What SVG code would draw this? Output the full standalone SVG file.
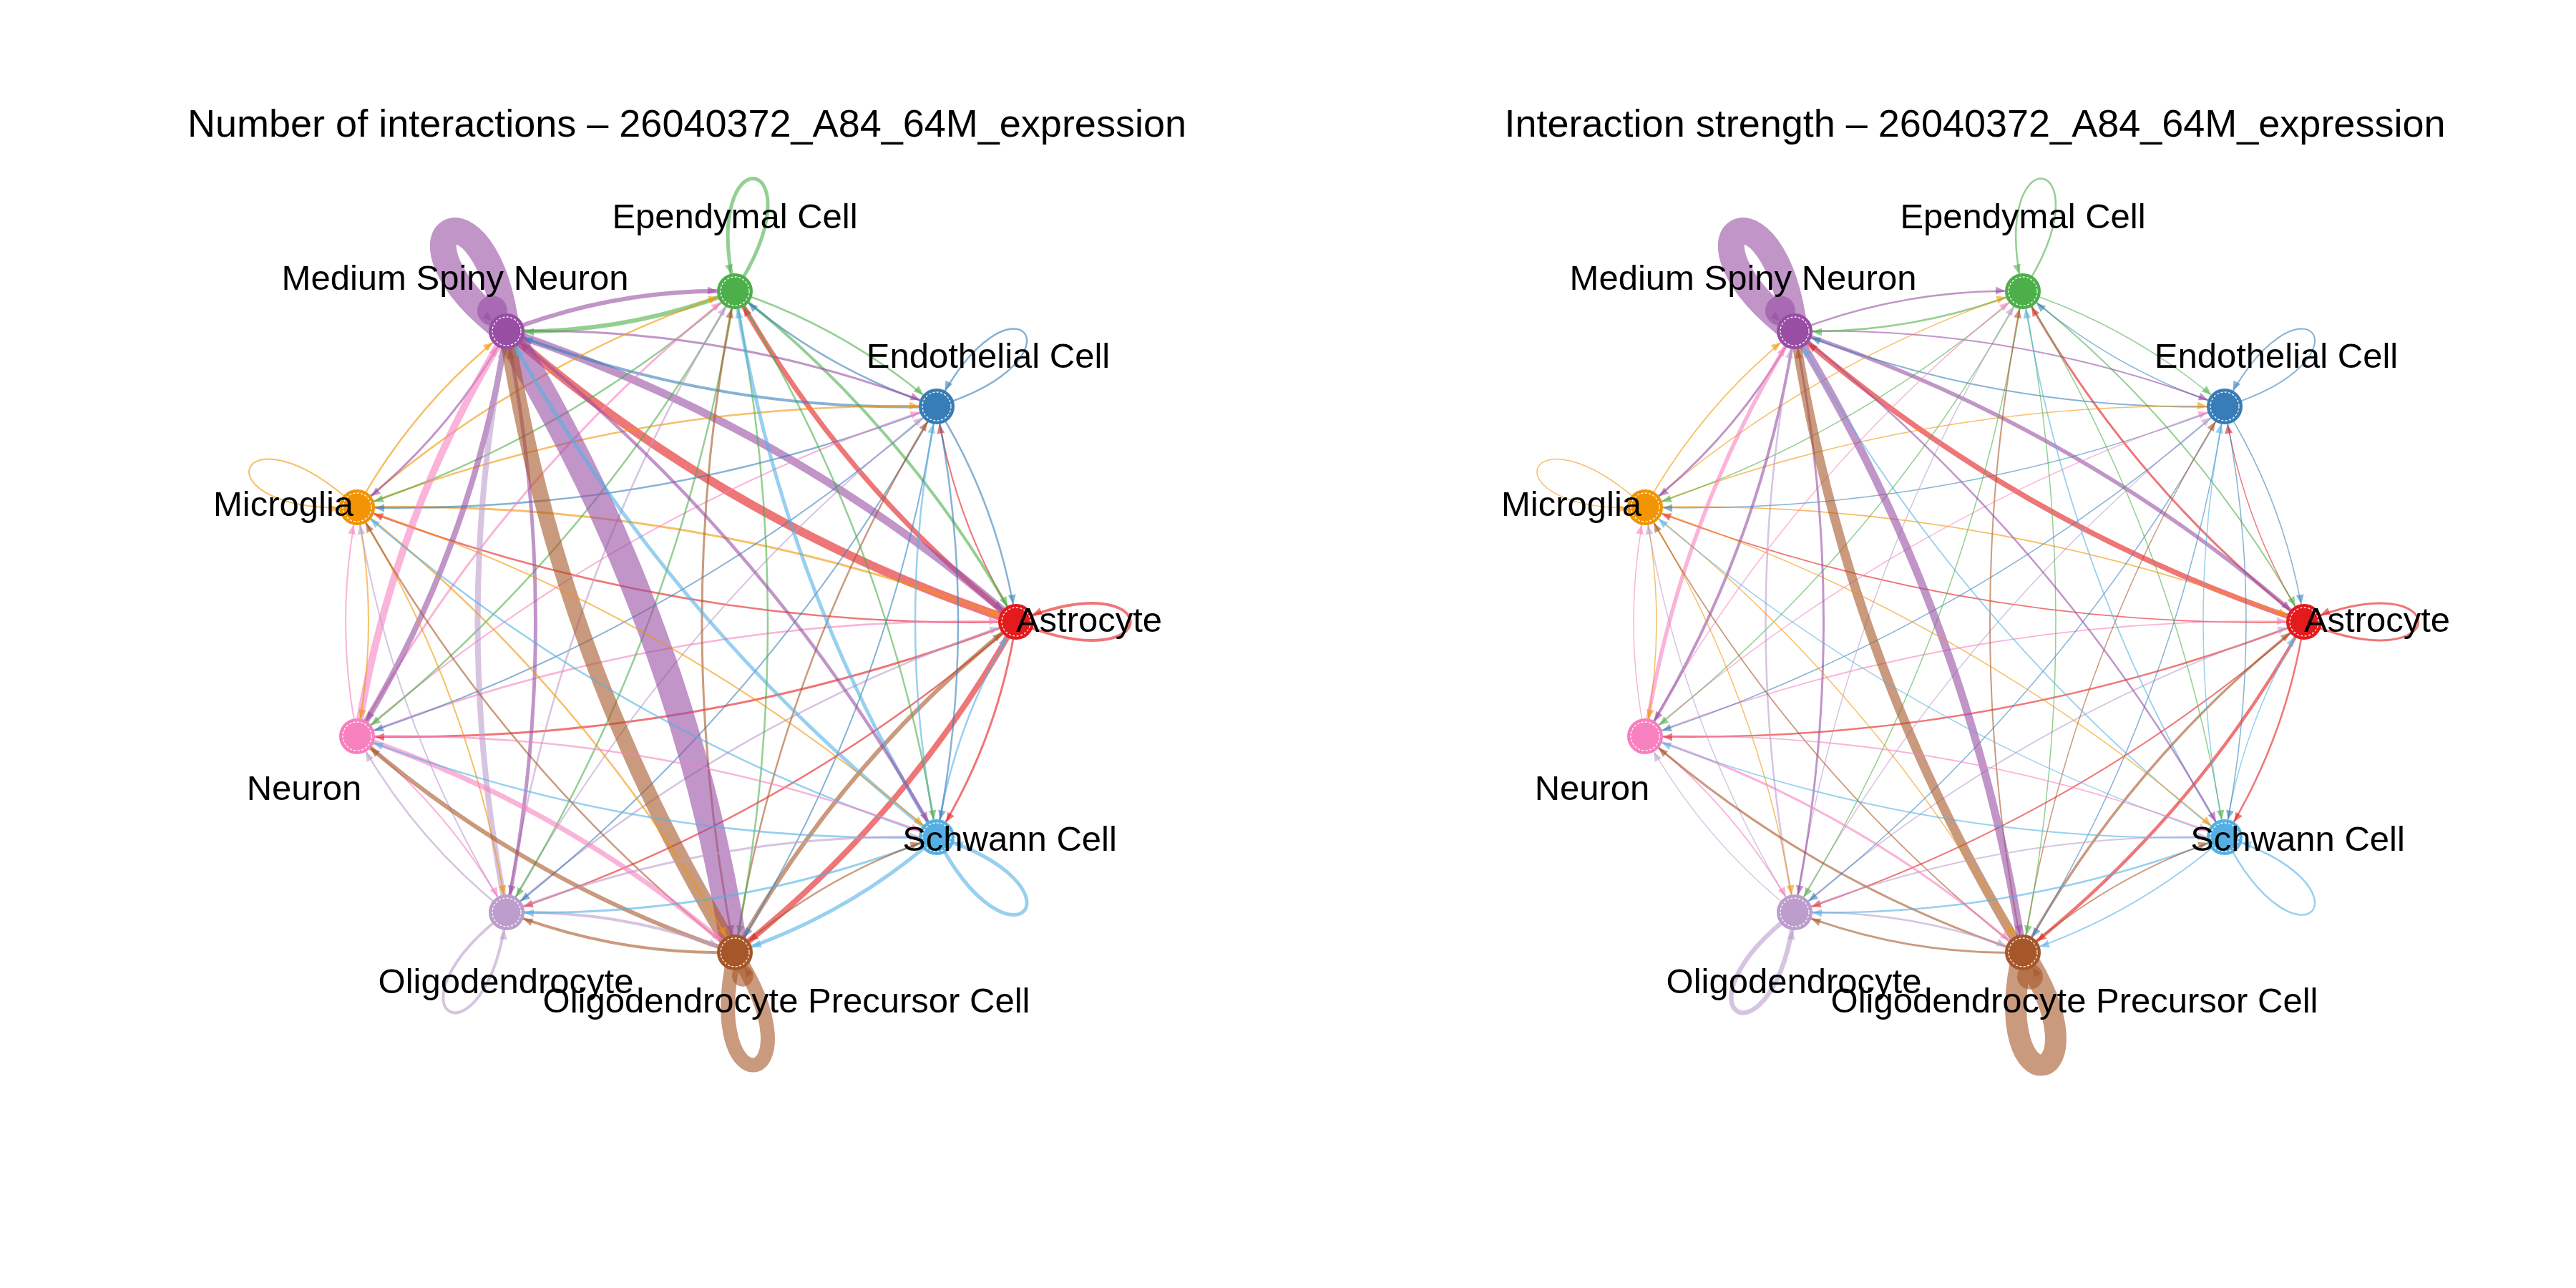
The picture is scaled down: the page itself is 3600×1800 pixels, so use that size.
<svg xmlns="http://www.w3.org/2000/svg" width="3600" height="1800" viewBox="0 0 3600 1800">
<style>
text{font-family:"Liberation Sans",Arial,Helvetica,sans-serif;fill:#000}
.title{font-size:54px;text-anchor:middle}
.lab{font-size:49px;text-anchor:middle}
.e{fill:none;stroke-opacity:.6;stroke-linecap:butt}
.eA{stroke:#E41A1C;marker-end:url(#mA)}
.eEn{stroke:#377EB8;marker-end:url(#mEn)}
.eEp{stroke:#4DAF4A;marker-end:url(#mEp)}
.eM{stroke:#984EA3;marker-end:url(#mM)}
.eMi{stroke:#F29403;marker-end:url(#mMi)}
.eN{stroke:#F781BF;marker-end:url(#mN)}
.eO{stroke:#BC9DCC;marker-end:url(#mO)}
.eP{stroke:#A65628;marker-end:url(#mP)}
.eS{stroke:#54B0E4;marker-end:url(#mS)}
.ring{fill:none;stroke:#fff;stroke-width:1.3;stroke-dasharray:3 2.5}
.blob{fill-opacity:.6}
</style>
<defs>
<marker id="mA" viewBox="-2 -8 44 16" markerWidth="44" markerHeight="16" refX="38" refY="0" orient="auto" markerUnits="userSpaceOnUse"><path d="M0,-5.5L13,0L0,5.5z" fill="#E41A1C" fill-opacity=".6"/></marker>
<marker id="mEn" viewBox="-2 -8 44 16" markerWidth="44" markerHeight="16" refX="38" refY="0" orient="auto" markerUnits="userSpaceOnUse"><path d="M0,-5.5L13,0L0,5.5z" fill="#377EB8" fill-opacity=".6"/></marker>
<marker id="mEp" viewBox="-2 -8 44 16" markerWidth="44" markerHeight="16" refX="38" refY="0" orient="auto" markerUnits="userSpaceOnUse"><path d="M0,-5.5L13,0L0,5.5z" fill="#4DAF4A" fill-opacity=".6"/></marker>
<marker id="mM" viewBox="-2 -8 44 16" markerWidth="44" markerHeight="16" refX="38" refY="0" orient="auto" markerUnits="userSpaceOnUse"><path d="M0,-5.5L13,0L0,5.5z" fill="#984EA3" fill-opacity=".6"/></marker>
<marker id="mMi" viewBox="-2 -8 44 16" markerWidth="44" markerHeight="16" refX="38" refY="0" orient="auto" markerUnits="userSpaceOnUse"><path d="M0,-5.5L13,0L0,5.5z" fill="#F29403" fill-opacity=".6"/></marker>
<marker id="mN" viewBox="-2 -8 44 16" markerWidth="44" markerHeight="16" refX="38" refY="0" orient="auto" markerUnits="userSpaceOnUse"><path d="M0,-5.5L13,0L0,5.5z" fill="#F781BF" fill-opacity=".6"/></marker>
<marker id="mO" viewBox="-2 -8 44 16" markerWidth="44" markerHeight="16" refX="38" refY="0" orient="auto" markerUnits="userSpaceOnUse"><path d="M0,-5.5L13,0L0,5.5z" fill="#BC9DCC" fill-opacity=".6"/></marker>
<marker id="mP" viewBox="-2 -8 44 16" markerWidth="44" markerHeight="16" refX="38" refY="0" orient="auto" markerUnits="userSpaceOnUse"><path d="M0,-5.5L13,0L0,5.5z" fill="#A65628" fill-opacity=".6"/></marker>
<marker id="mS" viewBox="-2 -8 44 16" markerWidth="44" markerHeight="16" refX="38" refY="0" orient="auto" markerUnits="userSpaceOnUse"><path d="M0,-5.5L13,0L0,5.5z" fill="#54B0E4" fill-opacity=".6"/></marker>
</defs>
<rect x="0" y="0" width="3600" height="1800" fill="#fff"/>

<g id="panel-count">
<text class="title" x="960" y="191">Number of interactions – 26040372_A84_64M_expression</text>
<g id="edges-count">
<path class="e eA" stroke-width="2" d="M1420 869Q1334 730 1309 568"/>
<path class="e eEn" stroke-width="2.5" d="M1309 568Q1395 707 1420 869"/>
<path class="e eA" stroke-width="7" d="M1420 869Q1177 677 1027 407"/>
<path class="e eEp" stroke-width="4" d="M1027 407Q1270 599 1420 869"/>
<path class="e eA" stroke-width="12" d="M1420 869Q1023 737 708 463"/>
<path class="e eM" stroke-width="11" d="M708 463Q1105 595 1420 869"/>
<path class="e eA" stroke-width="2.5" d="M1420 869Q944 881 499 709"/>
<path class="e eMi" stroke-width="3" d="M499 709Q976 697 1420 869"/>
<path class="e eA" stroke-width="3" d="M1420 869Q976 1041 499 1029"/>
<path class="e eN" stroke-width="2.5" d="M499 1029Q944 857 1420 869"/>
<path class="e eA" stroke-width="2.5" d="M1420 869Q1105 1143 708 1275"/>
<path class="e eO" stroke-width="2.5" d="M708 1275Q1023 1001 1420 869"/>
<path class="e eA" stroke-width="8" d="M1420 869Q1270 1139 1027 1331"/>
<path class="e eP" stroke-width="6" d="M1027 1331Q1177 1061 1420 869"/>
<path class="e eA" stroke-width="3" d="M1420 869Q1395 1031 1309 1170"/>
<path class="e eS" stroke-width="2.5" d="M1309 1170Q1334 1008 1420 869"/>
<path class="e eEn" stroke-width="2.5" d="M1309 568Q1152 516 1027 407"/>
<path class="e eEp" stroke-width="2.5" d="M1027 407Q1184 459 1309 568"/>
<path class="e eEn" stroke-width="4" d="M1309 568Q998 576 708 463"/>
<path class="e eM" stroke-width="3" d="M708 463Q1019 455 1309 568"/>
<path class="e eEn" stroke-width="2.5" d="M1309 568Q918 720 499 709"/>
<path class="e eMi" stroke-width="2.5" d="M499 709Q890 558 1309 568"/>
<path class="e eEn" stroke-width="2" d="M1309 568Q950 880 499 1029"/>
<path class="e eN" stroke-width="2" d="M499 1029Q858 718 1309 568"/>
<path class="e eEn" stroke-width="2" d="M1309 568Q1079 982 708 1275"/>
<path class="e eO" stroke-width="2" d="M708 1275Q938 861 1309 568"/>
<path class="e eEn" stroke-width="2" d="M1309 568Q1244 978 1027 1331"/>
<path class="e eP" stroke-width="2.5" d="M1027 1331Q1092 921 1309 568"/>
<path class="e eEn" stroke-width="2.5" d="M1309 568Q1369 869 1309 1170"/>
<path class="e eS" stroke-width="2.5" d="M1309 1170Q1249 869 1309 568"/>
<path class="e eEp" stroke-width="6" d="M1027 407Q873 467 708 463"/>
<path class="e eM" stroke-width="6" d="M708 463Q862 403 1027 407"/>
<path class="e eEp" stroke-width="2.5" d="M1027 407Q793 611 499 709"/>
<path class="e eMi" stroke-width="2.5" d="M499 709Q733 505 1027 407"/>
<path class="e eEp" stroke-width="2.5" d="M1027 407Q825 771 499 1029"/>
<path class="e eN" stroke-width="3" d="M499 1029Q701 665 1027 407"/>
<path class="e eEp" stroke-width="2.5" d="M1027 407Q954 873 708 1275"/>
<path class="e eO" stroke-width="2.5" d="M708 1275Q781 809 1027 407"/>
<path class="e eEp" stroke-width="2.5" d="M1027 407Q1119 869 1027 1331"/>
<path class="e eP" stroke-width="3" d="M1027 1331Q935 869 1027 407"/>
<path class="e eEp" stroke-width="2.5" d="M1027 407Q1244 760 1309 1170"/>
<path class="e eS" stroke-width="5" d="M1309 1170Q1092 817 1027 407"/>
<path class="e eM" stroke-width="3" d="M708 463Q628 607 499 709"/>
<path class="e eMi" stroke-width="2.5" d="M499 709Q579 565 708 463"/>
<path class="e eM" stroke-width="8" d="M708 463Q660 767 499 1029"/>
<path class="e eN" stroke-width="10" d="M499 1029Q547 725 708 463"/>
<path class="e eM" stroke-width="5" d="M708 463Q789 869 708 1275"/>
<path class="e eO" stroke-width="8" d="M708 1275Q627 869 708 463"/>
<path class="e eM" stroke-width="38" d="M708 463Q954 865 1027 1331"/>
<path class="e eP" stroke-width="22" d="M1027 1331Q781 929 708 463"/>
<path class="e eM" stroke-width="4.5" d="M708 463Q1079 756 1309 1170"/>
<path class="e eS" stroke-width="5" d="M1309 1170Q938 877 708 463"/>
<path class="e eMi" stroke-width="2" d="M499 709Q531 869 499 1029"/>
<path class="e eN" stroke-width="2" d="M499 1029Q467 869 499 709"/>
<path class="e eMi" stroke-width="2" d="M499 709Q660 971 708 1275"/>
<path class="e eO" stroke-width="2" d="M708 1275Q547 1013 499 709"/>
<path class="e eMi" stroke-width="2.5" d="M499 709Q825 967 1027 1331"/>
<path class="e eP" stroke-width="2.5" d="M1027 1331Q701 1073 499 709"/>
<path class="e eMi" stroke-width="2" d="M499 709Q950 859 1309 1170"/>
<path class="e eS" stroke-width="2.5" d="M1309 1170Q858 1021 499 709"/>
<path class="e eN" stroke-width="2" d="M499 1029Q628 1131 708 1275"/>
<path class="e eO" stroke-width="2.5" d="M708 1275Q579 1173 499 1029"/>
<path class="e eN" stroke-width="7" d="M499 1029Q793 1127 1027 1331"/>
<path class="e eP" stroke-width="6" d="M1027 1331Q733 1233 499 1029"/>
<path class="e eN" stroke-width="2.5" d="M499 1029Q918 1019 1309 1170"/>
<path class="e eS" stroke-width="2.5" d="M1309 1170Q890 1181 499 1029"/>
<path class="e eO" stroke-width="4" d="M708 1275Q873 1271 1027 1331"/>
<path class="e eP" stroke-width="4" d="M1027 1331Q862 1335 708 1275"/>
<path class="e eO" stroke-width="3" d="M708 1275Q998 1162 1309 1170"/>
<path class="e eS" stroke-width="3" d="M1309 1170Q1019 1283 708 1275"/>
<path class="e eP" stroke-width="2.5" d="M1027 1331Q1152 1222 1309 1170"/>
<path class="e eS" stroke-width="5" d="M1309 1170Q1184 1279 1027 1331"/>
<path class="e eM" stroke-width="37" d="M0,0C213,90 213,-90 0,0" transform="translate(708,463) rotate(-120)"/>
<circle class="blob" cx="35" cy="-3" r="21" fill="#984EA3" transform="translate(708,463) rotate(-120)"/>
<path class="e eEp" stroke-width="5" d="M0,0C213,90 213,-90 0,0" transform="translate(1027,407) rotate(-80)"/>
<path class="e eEn" stroke-width="2.5" d="M0,0C213,90 213,-90 0,0" transform="translate(1309,568) rotate(-40)"/>
<path class="e eA" stroke-width="4" d="M0,0C213,90 213,-90 0,0" transform="translate(1420,869)"/>
<path class="e eS" stroke-width="5" d="M0,0C213,90 213,-90 0,0" transform="translate(1309,1170) rotate(40)"/>
<path class="e eP" stroke-width="20" d="M0,0C213,90 213,-90 0,0" transform="translate(1027,1331) rotate(80)"/>
<circle class="blob" cx="34" cy="-5" r="15" fill="#A65628" transform="translate(1027,1331) rotate(80)"/>
<path class="e eO" stroke-width="4" d="M0,0C213,90 213,-90 0,0" transform="translate(708,1275) rotate(120)"/>
<path class="e eMi" stroke-width="2" d="M0,0C213,90 213,-90 0,0" transform="translate(499,709) rotate(-160)"/>
</g>
<g id="node-astrocyte"><circle cx="1420" cy="869" r="24" fill="#E41A1C" stroke="#E41A1C" stroke-width="2"/><circle class="ring" cx="1420" cy="869" r="20"/></g>
<g id="node-endothelial"><circle cx="1309" cy="568" r="24" fill="#377EB8" stroke="#377EB8" stroke-width="2"/><circle class="ring" cx="1309" cy="568" r="20"/></g>
<g id="node-ependymal"><circle cx="1027" cy="407" r="24" fill="#4DAF4A" stroke="#4DAF4A" stroke-width="2"/><circle class="ring" cx="1027" cy="407" r="20"/></g>
<g id="node-msn"><circle cx="708" cy="463" r="24" fill="#984EA3" stroke="#984EA3" stroke-width="2"/><circle class="ring" cx="708" cy="463" r="20"/></g>
<g id="node-microglia"><circle cx="499" cy="709" r="24" fill="#F29403" stroke="#F29403" stroke-width="2"/><circle class="ring" cx="499" cy="709" r="20"/></g>
<g id="node-neuron"><circle cx="499" cy="1029" r="24" fill="#F781BF" stroke="#F781BF" stroke-width="2"/><circle class="ring" cx="499" cy="1029" r="20"/></g>
<g id="node-oligo"><circle cx="708" cy="1275" r="24" fill="#BC9DCC" stroke="#BC9DCC" stroke-width="2"/><circle class="ring" cx="708" cy="1275" r="20"/></g>
<g id="node-opc"><circle cx="1027" cy="1331" r="24" fill="#A65628" stroke="#A65628" stroke-width="2"/><circle class="ring" cx="1027" cy="1331" r="20"/></g>
<g id="node-schwann"><circle cx="1309" cy="1170" r="24" fill="#54B0E4" stroke="#54B0E4" stroke-width="2"/><circle class="ring" cx="1309" cy="1170" r="20"/></g>
<g id="labels-count">
<text class="lab" x="1027" y="319">Ependymal Cell</text>
<text class="lab" x="636" y="405">Medium Spiny Neuron</text>
<text class="lab" x="1381" y="514">Endothelial Cell</text>
<text class="lab" x="396" y="721">Microglia</text>
<text class="lab" x="1522" y="883">Astrocyte</text>
<text class="lab" x="425" y="1118">Neuron</text>
<text class="lab" x="1411" y="1189">Schwann Cell</text>
<text class="lab" x="707" y="1388">Oligodendrocyte</text>
<text class="lab" x="1099" y="1415">Oligodendrocyte Precursor Cell</text>
</g>
</g>

<g id="panel-strength" transform="translate(1800,0)">
<text class="title" x="960" y="191">Interaction strength – 26040372_A84_64M_expression</text>
<g id="edges-strength">
<path class="e eA" stroke-width="1.5" d="M1420 869Q1334 730 1309 568"/>
<path class="e eEn" stroke-width="1.5" d="M1309 568Q1395 707 1420 869"/>
<path class="e eA" stroke-width="3" d="M1420 869Q1177 677 1027 407"/>
<path class="e eEp" stroke-width="2" d="M1027 407Q1270 599 1420 869"/>
<path class="e eA" stroke-width="7.5" d="M1420 869Q1023 737 708 463"/>
<path class="e eM" stroke-width="5.5" d="M708 463Q1105 595 1420 869"/>
<path class="e eA" stroke-width="1.8" d="M1420 869Q944 881 499 709"/>
<path class="e eMi" stroke-width="1.8" d="M499 709Q976 697 1420 869"/>
<path class="e eA" stroke-width="2.5" d="M1420 869Q976 1041 499 1029"/>
<path class="e eN" stroke-width="1.8" d="M499 1029Q944 857 1420 869"/>
<path class="e eA" stroke-width="2" d="M1420 869Q1105 1143 708 1275"/>
<path class="e eO" stroke-width="1.8" d="M708 1275Q1023 1001 1420 869"/>
<path class="e eA" stroke-width="4.5" d="M1420 869Q1270 1139 1027 1331"/>
<path class="e eP" stroke-width="3.5" d="M1027 1331Q1177 1061 1420 869"/>
<path class="e eA" stroke-width="2.5" d="M1420 869Q1395 1031 1309 1170"/>
<path class="e eS" stroke-width="1.5" d="M1309 1170Q1334 1008 1420 869"/>
<path class="e eEn" stroke-width="1.5" d="M1309 568Q1152 516 1027 407"/>
<path class="e eEp" stroke-width="1.5" d="M1027 407Q1184 459 1309 568"/>
<path class="e eEn" stroke-width="2" d="M1309 568Q998 576 708 463"/>
<path class="e eM" stroke-width="2" d="M708 463Q1019 455 1309 568"/>
<path class="e eEn" stroke-width="1.5" d="M1309 568Q918 720 499 709"/>
<path class="e eMi" stroke-width="1.5" d="M499 709Q890 558 1309 568"/>
<path class="e eEn" stroke-width="1.5" d="M1309 568Q950 880 499 1029"/>
<path class="e eN" stroke-width="1.5" d="M499 1029Q858 718 1309 568"/>
<path class="e eEn" stroke-width="1.5" d="M1309 568Q1079 982 708 1275"/>
<path class="e eO" stroke-width="1.5" d="M708 1275Q938 861 1309 568"/>
<path class="e eEn" stroke-width="1.5" d="M1309 568Q1244 978 1027 1331"/>
<path class="e eP" stroke-width="1.5" d="M1027 1331Q1092 921 1309 568"/>
<path class="e eEn" stroke-width="1.5" d="M1309 568Q1369 869 1309 1170"/>
<path class="e eS" stroke-width="1.5" d="M1309 1170Q1249 869 1309 568"/>
<path class="e eEp" stroke-width="2.5" d="M1027 407Q873 467 708 463"/>
<path class="e eM" stroke-width="2.5" d="M708 463Q862 403 1027 407"/>
<path class="e eEp" stroke-width="1.5" d="M1027 407Q793 611 499 709"/>
<path class="e eMi" stroke-width="1.5" d="M499 709Q733 505 1027 407"/>
<path class="e eEp" stroke-width="1.5" d="M1027 407Q825 771 499 1029"/>
<path class="e eN" stroke-width="1.5" d="M499 1029Q701 665 1027 407"/>
<path class="e eEp" stroke-width="1.5" d="M1027 407Q954 873 708 1275"/>
<path class="e eO" stroke-width="1.5" d="M708 1275Q781 809 1027 407"/>
<path class="e eEp" stroke-width="1.5" d="M1027 407Q1119 869 1027 1331"/>
<path class="e eP" stroke-width="2" d="M1027 1331Q935 869 1027 407"/>
<path class="e eEp" stroke-width="1.5" d="M1027 407Q1244 760 1309 1170"/>
<path class="e eS" stroke-width="1.8" d="M1309 1170Q1092 817 1027 407"/>
<path class="e eM" stroke-width="3" d="M708 463Q628 607 499 709"/>
<path class="e eMi" stroke-width="1.8" d="M499 709Q579 565 708 463"/>
<path class="e eM" stroke-width="4" d="M708 463Q660 767 499 1029"/>
<path class="e eN" stroke-width="5.5" d="M499 1029Q547 725 708 463"/>
<path class="e eM" stroke-width="3" d="M708 463Q789 869 708 1275"/>
<path class="e eO" stroke-width="2.5" d="M708 1275Q627 869 708 463"/>
<path class="e eM" stroke-width="11" d="M708 463Q954 865 1027 1331"/>
<path class="e eP" stroke-width="13" d="M1027 1331Q781 929 708 463"/>
<path class="e eM" stroke-width="2.5" d="M708 463Q1079 756 1309 1170"/>
<path class="e eS" stroke-width="1.8" d="M1309 1170Q938 877 708 463"/>
<path class="e eMi" stroke-width="1.5" d="M499 709Q531 869 499 1029"/>
<path class="e eN" stroke-width="1.5" d="M499 1029Q467 869 499 709"/>
<path class="e eMi" stroke-width="1.5" d="M499 709Q660 971 708 1275"/>
<path class="e eO" stroke-width="1.5" d="M708 1275Q547 1013 499 709"/>
<path class="e eMi" stroke-width="1.5" d="M499 709Q825 967 1027 1331"/>
<path class="e eP" stroke-width="1.8" d="M1027 1331Q701 1073 499 709"/>
<path class="e eMi" stroke-width="1.5" d="M499 709Q950 859 1309 1170"/>
<path class="e eS" stroke-width="1.5" d="M1309 1170Q858 1021 499 709"/>
<path class="e eN" stroke-width="1.8" d="M499 1029Q628 1131 708 1275"/>
<path class="e eO" stroke-width="1.5" d="M708 1275Q579 1173 499 1029"/>
<path class="e eN" stroke-width="3" d="M499 1029Q793 1127 1027 1331"/>
<path class="e eP" stroke-width="3" d="M1027 1331Q733 1233 499 1029"/>
<path class="e eN" stroke-width="1.8" d="M499 1029Q918 1019 1309 1170"/>
<path class="e eS" stroke-width="1.8" d="M1309 1170Q890 1181 499 1029"/>
<path class="e eO" stroke-width="2.5" d="M708 1275Q873 1271 1027 1331"/>
<path class="e eP" stroke-width="3" d="M1027 1331Q862 1335 708 1275"/>
<path class="e eO" stroke-width="2" d="M708 1275Q998 1162 1309 1170"/>
<path class="e eS" stroke-width="2.5" d="M1309 1170Q1019 1283 708 1275"/>
<path class="e eP" stroke-width="1.8" d="M1027 1331Q1152 1222 1309 1170"/>
<path class="e eS" stroke-width="1.8" d="M1309 1170Q1184 1279 1027 1331"/>
<path class="e eM" stroke-width="37" d="M0,0C213,90 213,-90 0,0" transform="translate(708,463) rotate(-120)"/>
<circle class="blob" cx="35" cy="-3" r="21" fill="#984EA3" transform="translate(708,463) rotate(-120)"/>
<path class="e eEp" stroke-width="2.5" d="M0,0C213,90 213,-90 0,0" transform="translate(1027,407) rotate(-80)"/>
<path class="e eEn" stroke-width="2" d="M0,0C213,90 213,-90 0,0" transform="translate(1309,568) rotate(-40)"/>
<path class="e eA" stroke-width="3" d="M0,0C213,90 213,-90 0,0" transform="translate(1420,869)"/>
<path class="e eS" stroke-width="2.5" d="M0,0C213,90 213,-90 0,0" transform="translate(1309,1170) rotate(40)"/>
<path class="e eP" stroke-width="30" d="M0,0C213,90 213,-90 0,0" transform="translate(1027,1331) rotate(80)"/>
<circle class="blob" cx="35" cy="-4" r="18" fill="#A65628" transform="translate(1027,1331) rotate(80)"/>
<path class="e eO" stroke-width="6.5" d="M0,0C213,90 213,-90 0,0" transform="translate(708,1275) rotate(120)"/>
<path class="e eMi" stroke-width="1.5" d="M0,0C213,90 213,-90 0,0" transform="translate(499,709) rotate(-160)"/>
</g>
<g id="node-astrocyte-2"><circle cx="1420" cy="869" r="24" fill="#E41A1C" stroke="#E41A1C" stroke-width="2"/><circle class="ring" cx="1420" cy="869" r="20"/></g>
<g id="node-endothelial-2"><circle cx="1309" cy="568" r="24" fill="#377EB8" stroke="#377EB8" stroke-width="2"/><circle class="ring" cx="1309" cy="568" r="20"/></g>
<g id="node-ependymal-2"><circle cx="1027" cy="407" r="24" fill="#4DAF4A" stroke="#4DAF4A" stroke-width="2"/><circle class="ring" cx="1027" cy="407" r="20"/></g>
<g id="node-msn-2"><circle cx="708" cy="463" r="24" fill="#984EA3" stroke="#984EA3" stroke-width="2"/><circle class="ring" cx="708" cy="463" r="20"/></g>
<g id="node-microglia-2"><circle cx="499" cy="709" r="24" fill="#F29403" stroke="#F29403" stroke-width="2"/><circle class="ring" cx="499" cy="709" r="20"/></g>
<g id="node-neuron-2"><circle cx="499" cy="1029" r="24" fill="#F781BF" stroke="#F781BF" stroke-width="2"/><circle class="ring" cx="499" cy="1029" r="20"/></g>
<g id="node-oligo-2"><circle cx="708" cy="1275" r="24" fill="#BC9DCC" stroke="#BC9DCC" stroke-width="2"/><circle class="ring" cx="708" cy="1275" r="20"/></g>
<g id="node-opc-2"><circle cx="1027" cy="1331" r="24" fill="#A65628" stroke="#A65628" stroke-width="2"/><circle class="ring" cx="1027" cy="1331" r="20"/></g>
<g id="node-schwann-2"><circle cx="1309" cy="1170" r="24" fill="#54B0E4" stroke="#54B0E4" stroke-width="2"/><circle class="ring" cx="1309" cy="1170" r="20"/></g>
<g id="labels-strength">
<text class="lab" x="1027" y="319">Ependymal Cell</text>
<text class="lab" x="636" y="405">Medium Spiny Neuron</text>
<text class="lab" x="1381" y="514">Endothelial Cell</text>
<text class="lab" x="396" y="721">Microglia</text>
<text class="lab" x="1522" y="883">Astrocyte</text>
<text class="lab" x="425" y="1118">Neuron</text>
<text class="lab" x="1411" y="1189">Schwann Cell</text>
<text class="lab" x="707" y="1388">Oligodendrocyte</text>
<text class="lab" x="1099" y="1415">Oligodendrocyte Precursor Cell</text>
</g>
</g>
</svg>
